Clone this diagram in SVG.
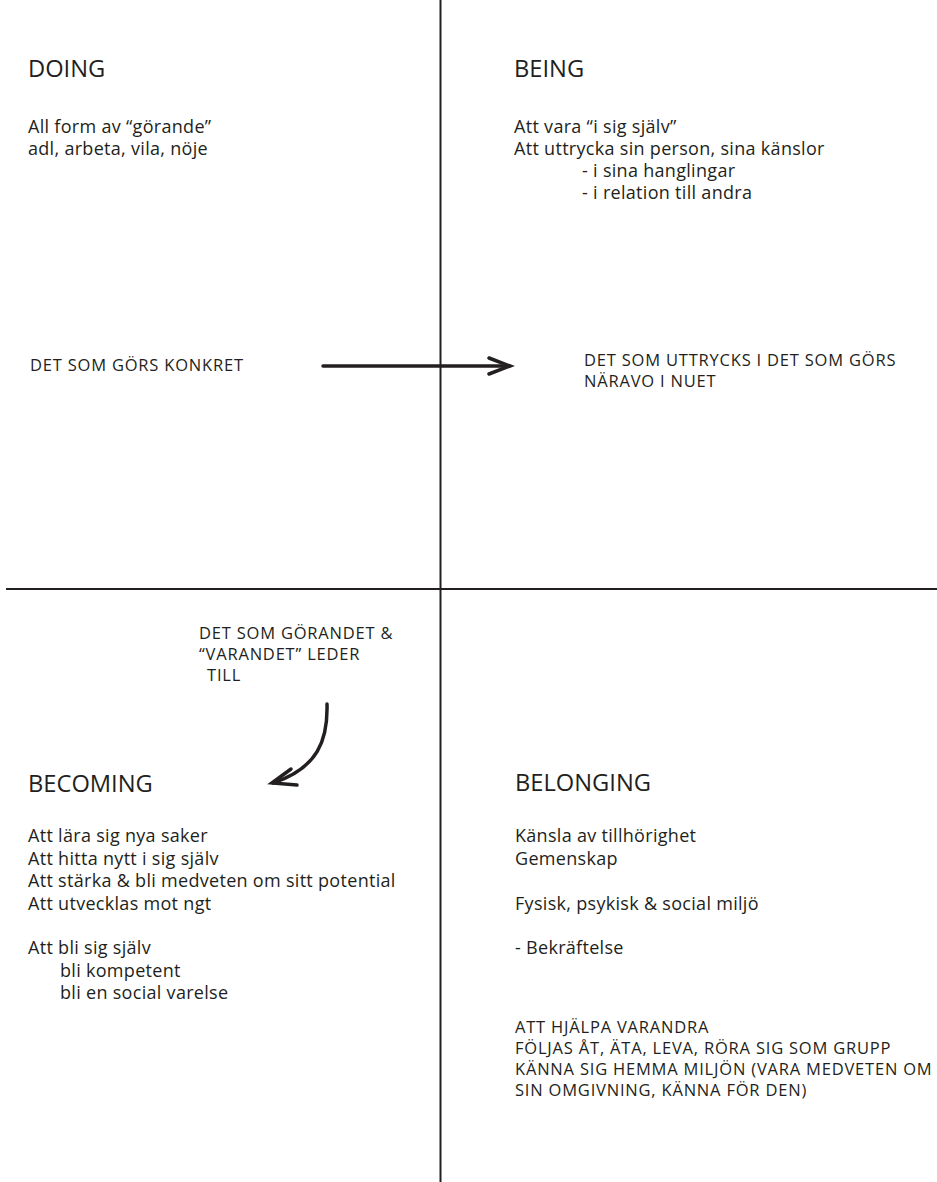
<svg xmlns="http://www.w3.org/2000/svg" width="937" height="1182" viewBox="0 0 937 1182">
<style>
text{font-family:"Open Sans","Noto Sans","Liberation Sans",sans-serif;fill:#231f20}
.h{font-size:23.7px}
.b{font-size:18px;letter-spacing:0.3px}
.c{font-size:16.5px;letter-spacing:0.8px}
.ln{stroke:#231f20;stroke-width:2;fill:none}
.ar{stroke:#231f20;stroke-width:3.5;fill:none;stroke-linecap:round;stroke-linejoin:miter}
</style>
<rect width="937" height="1182" fill="#fff"/>
<g id="axes">
<line class="ln" x1="440.5" y1="0" x2="440.5" y2="1182"/>
<line class="ln" x1="6" y1="589" x2="937" y2="589"/>
</g>
<g id="doing">
<text class="h" x="28" y="77">DOING</text>
<text class="b" x="28" y="133">All form av “görande”</text>
<text class="b" x="28" y="155">adl, arbeta, vila, nöje</text>
<text class="c" x="30" y="371">DET SOM GÖRS KONKRET</text>
</g>
<g id="being">
<text class="h" x="514" y="77">BEING</text>
<text class="b" x="514" y="133">Att vara “i sig själv”</text>
<text class="b" x="514" y="155">Att uttrycka sin person, sina känslor</text>
<text class="b" x="582" y="177">- i sina hanglingar</text>
<text class="b" x="582" y="199">- i relation till andra</text>
<text class="c" x="584" y="366">DET SOM UTTRYCKS I DET SOM GÖRS</text>
<text class="c" x="584" y="387">NÄRAVO I NUET</text>
</g>
<g id="becoming">
<text class="c" x="199" y="639">DET SOM GÖRANDET &amp;</text>
<text class="c" x="199" y="660">“VARANDET” LEDER</text>
<text class="c" x="207" y="681">TILL</text>
<text class="h" x="28" y="792">BECOMING</text>
<text class="b" x="28" y="842">Att lära sig nya saker</text>
<text class="b" x="28" y="864.5">Att hitta nytt i sig själv</text>
<text class="b" x="28" y="887">Att stärka &amp; bli medveten om sitt potential</text>
<text class="b" x="28" y="909.5">Att utvecklas mot ngt</text>
<text class="b" x="28" y="954">Att bli sig själv</text>
<text class="b" x="60" y="976.5">bli kompetent</text>
<text class="b" x="60" y="999">bli en social varelse</text>
</g>
<g id="belonging">
<text class="h" x="515" y="791">BELONGING</text>
<text class="b" x="515" y="842">Känsla av tillhörighet</text>
<text class="b" x="515" y="864.5">Gemenskap</text>
<text class="b" x="515" y="909.5">Fysisk, psykisk &amp; social miljö</text>
<text class="b" x="515" y="954">- Bekräftelse</text>
<text class="c" x="515" y="1033">ATT HJÄLPA VARANDRA</text>
<text class="c" x="515" y="1054">FÖLJAS ÅT, ÄTA, LEVA, RÖRA SIG SOM GRUPP</text>
<text class="c" x="515" y="1075">KÄNNA SIG HEMMA MILJÖN (VARA MEDVETEN OM</text>
<text class="c" x="515" y="1096">SIN OMGIVNING, KÄNNA FÖR DEN)</text>
</g>
<g id="connectors">
<path class="ar" d="M323 366 L509 366"/>
<path class="ar" d="M489 358 L510 366 L489 374"/>
<path class="ar" d="M327 704 C328 740 318 768 273 783"/>
<path class="ar" d="M291 769 L272 783 L297 785"/>
</g>
</svg>
